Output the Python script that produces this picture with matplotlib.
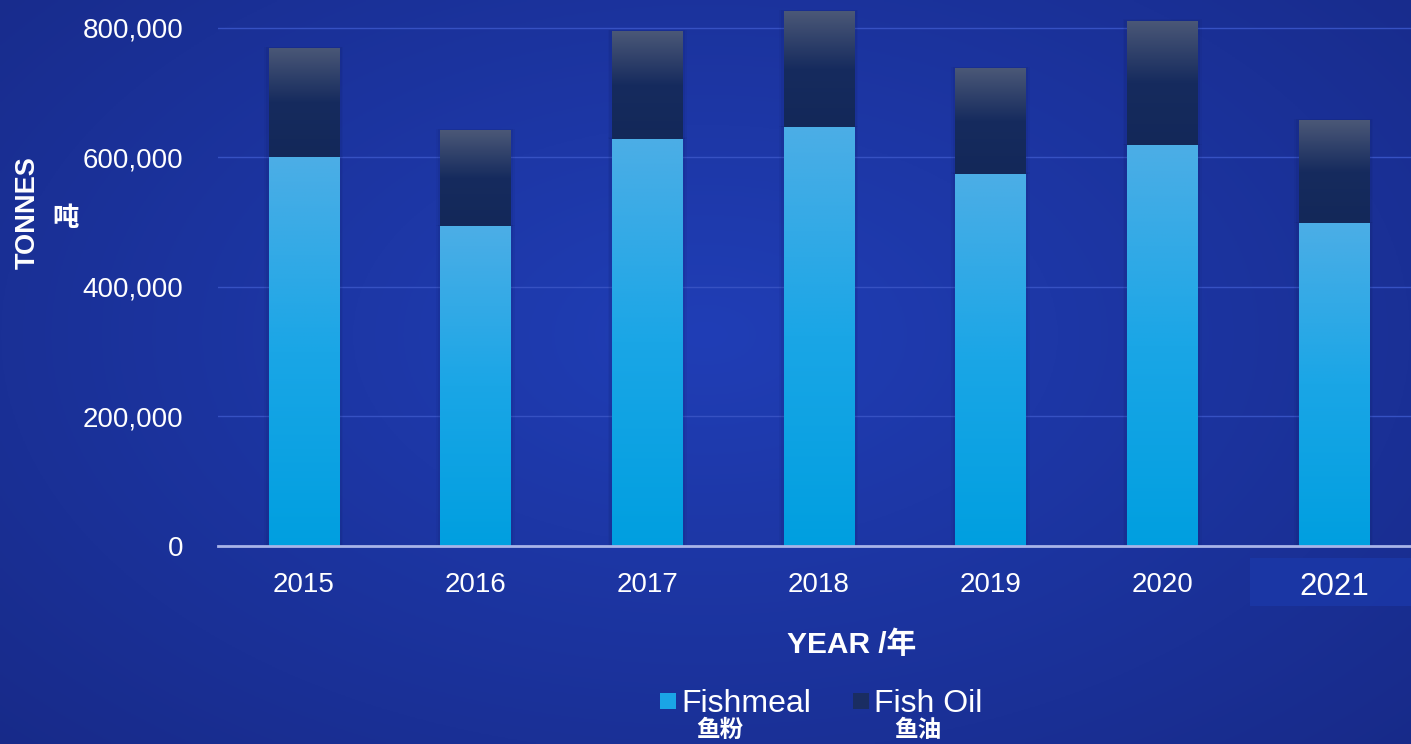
import numpy as np
import matplotlib
matplotlib.use("Agg")
import matplotlib.pyplot as plt
from matplotlib.patches import Rectangle
from matplotlib.colors import LinearSegmentedColormap
from matplotlib.ticker import FuncFormatter

years = ["2015", "2016", "2017", "2018", "2019", "2020", "2021"]
fishmeal = [600000, 494000, 629000, 647000, 575000, 619000, 499000]
fish_oil = [169000, 148000, 166000, 179000, 163000, 192000, 159000]
y_ticks = [0, 200000, 400000, 600000, 800000]

LATIN = "Liberation Sans"
CJK = "Noto Sans CJK SC"
plt.rcParams["font.family"] = [LATIN, CJK, "DejaVu Sans"]

W, H, DPI = 1411, 744, 100
fig = plt.figure(figsize=(W / DPI, H / DPI), dpi=DPI)

# Background: soft radial gradient, brighter in the middle
bg = fig.add_axes([0, 0, 1, 1], zorder=-10)
bg.set_axis_off()
yy, xx = np.mgrid[0:1:300j, 0:1:560j]
r = np.sqrt(((xx - 0.5) / 0.75) ** 2 + ((yy - 0.45) / 0.85) ** 2)
t = np.clip(r, 0, 1)
c_center = np.array([0x20, 0x3e, 0xb6]) / 255
c_edge = np.array([0x17, 0x29, 0x86]) / 255
img = c_center[None, None, :] * (1 - t[..., None]) + c_edge[None, None, :] * t[..., None]
bg.imshow(img, extent=[0, 1, 0, 1], aspect="auto", origin="upper")
bg.set_xlim(0, 1)
bg.set_ylim(0, 1)

# Highlight box behind the last year label
bg.add_patch(Rectangle((1250 / W, 1 - 606 / H), (W - 1250) / W, 48 / H,
                       facecolor="#1b37a6", edgecolor="none", alpha=0.9))

ax = fig.add_axes([218 / W, 1 - 546 / H, 1 - 218 / W, 546 / H])
ax.patch.set_alpha(0)

x = np.arange(len(years))
width = 0.41
meal_bars = ax.bar(x, fishmeal, width, color="#1aa5e6", zorder=3, label="Fishmeal")
oil_bars = ax.bar(x, fish_oil, width, bottom=fishmeal, color="#1a2d62", zorder=3,
                  label="Fish Oil")

meal_cmap = LinearSegmentedColormap.from_list("meal", ["#009fe0", "#1aa6e6", "#4caee6"])
oil_cmap = LinearSegmentedColormap.from_list("oil", ["#132859", "#162b5e", "#4b5877"])
grad = np.linspace(0, 1, 256).reshape(-1, 1)

def fill_gradient(bars, cmap):
    for b in bars:
        x0, y0 = b.get_x(), b.get_y()
        w, h = b.get_width(), b.get_height()
        # faint shadow around each bar
        for k, a in ((0.05, 0.06), (0.03, 0.08)):
            ax.add_patch(Rectangle((x0 - k / 2, y0), w + k, h + k * 40000,
                                   facecolor="#0b1550", edgecolor="none",
                                   alpha=a, zorder=2))
        im = ax.imshow(grad, cmap=cmap, origin="lower", aspect="auto",
                       extent=[x0, x0 + w, y0, y0 + h], zorder=4)
        im.set_clip_path(b)

fill_gradient(meal_bars, meal_cmap)
fill_gradient(oil_bars, oil_cmap)

ax.set_xlim(-0.5, 6.45)
ax.set_ylim(0, 843000)
ax.set_yticks(y_ticks)
ax.yaxis.set_major_formatter(FuncFormatter(lambda v, p: f"{int(v):,}"))
ax.set_xticks(x)
ax.set_xticklabels(years)
ax.grid(axis="y", color="#3651c2", linewidth=1.0, zorder=0)
ax.set_axisbelow(True)
for s in ("top", "right", "left"):
    ax.spines[s].set_visible(False)
ax.spines["bottom"].set_color("#a8b4e8")
ax.spines["bottom"].set_linewidth(2)
ax.spines["bottom"].set_zorder(6)
ax.tick_params(axis="both", length=0, colors="white", labelsize=20)
ax.tick_params(axis="y", pad=25)
ax.tick_params(axis="x", pad=19)
ax.get_xticklabels()[-1].set_fontsize(22.5)

# Axis titles
fig.text(28 / W, 1 - 213 / H, "TONNES", rotation=90, color="white", fontsize=19.5,
         fontweight="bold", ha="center", va="center")
fig.text(66 / W, 1 - 218 / H, "吨", color="white", fontsize=19, fontweight="bold",
         ha="center", va="center", family=[CJK])
fig.text(852 / W, 1 - 645 / H, "YEAR /年", color="white", fontsize=21.5,
         fontweight="bold", ha="center", va="center")

# Legend
for sx, col, label, cn, cnx in ((660, "#1aa5e6", "Fishmeal", "鱼粉", 720),
                                (853, "#1a2d62", "Fish Oil", "鱼油", 918)):
    fig.patches.append(Rectangle((sx / W, 1 - 709 / H), 16 / W, 16 / H,
                                 facecolor=col, edgecolor="none",
                                 transform=fig.transFigure, figure=fig))
    fig.text((sx + 21) / W, 1 - 712 / H, label, color="white", fontsize=23,
             ha="left", va="baseline")
    fig.text(cnx / W, 1 - 737 / H, cn, color="white", fontsize=17, fontweight="bold",
             ha="center", va="baseline", family=[CJK])

fig.savefig("out.png", dpi=DPI)
